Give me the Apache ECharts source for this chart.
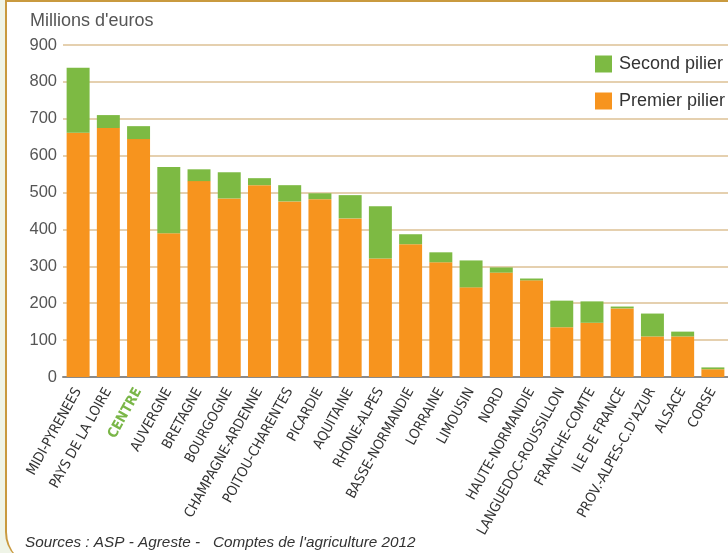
<!DOCTYPE html>
<html><head><meta charset="utf-8">
<script src="https://cdn.jsdelivr.net/npm/echarts@6/dist/echarts.min.js"></script>
<style>
html,body{margin:0;padding:0;width:728px;height:553px;overflow:hidden;background:#eff4e7;}
#frame{position:absolute;left:5px;top:0;width:740px;height:566px;background:#fff;border-top:2px solid #c99a3f;border-left:2px solid #c99a3f;border-bottom-left-radius:34px;box-sizing:border-box;}
#chart{position:absolute;left:0;top:0;width:728px;height:553px;}
</style></head>
<body><div id="frame"></div><div id="chart"></div>
<script>
const categories = ["MIDI-PYRENEES","PAYS DE LA LOIRE","CENTRE","AUVERGNE","BRETAGNE","BOURGOGNE","CHAMPAGNE-ARDENNE","POITOU-CHARENTES","PICARDIE","AQUITAINE","RHONE-ALPES","BASSE-NORMANDIE","LORRAINE","LIMOUSIN","NORD","HAUTE-NORMANDIE","LANGUEDOC-ROUSSILLON","FRANCHE-COMTE","ILE DE FRANCE","PROV.-ALPES-C.D'AZUR","ALSACE","CORSE"];
const premierPilier = [662,675,645,390,531,484,520,476,482,430,321,360,311,243,283,262,135,147,186,110,110,21];
const totalValues   = [838,710,680,569,563,555,539,520,498,493,463,387,338,316,297,267,207,205,191,172,123,26];
const secondPilier = totalValues.map((t,i)=>t-premierPilier[i]);
const yTicks = [0,100,200,300,400,500,600,700,800,900];
const highlight = "CENTRE";

const chart = echarts.init(document.getElementById('chart'), null, {renderer:'canvas'});
const font = "'DejaVu Sans Condensed','Liberation Sans Narrow','Liberation Sans',Arial,sans-serif";
const sans = "'Liberation Sans',Arial,sans-serif";
chart.setOption({
  animation:false,
  grid:{left:63,right:0,top:45,bottom:176},
  title:[
    {text:"Millions d'euros",left:25,top:7,textStyle:{fontFamily:sans,fontSize:18,fontWeight:'normal',color:'#555'}},
    {text:"Sources : ASP - Agreste -   Comptes de l'agriculture 2012",left:20,top:530,textStyle:{fontFamily:sans,fontSize:15.3,fontStyle:'italic',fontWeight:'normal',color:'#333'}}
  ],
  legend:{
    left:595,top:55,orient:'vertical',itemGap:19,itemWidth:17,itemHeight:17,padding:0,
    textStyle:{fontFamily:sans,fontSize:18,color:'#333',padding:[0,0,0,2]},
    data:[{name:'Second pilier',icon:'rect'},{name:'Premier pilier',icon:'rect'}]
  },
  xAxis:{
    type:'category',data:categories,
    axisLine:{lineStyle:{color:'#8a8a8a',width:2}},
    axisTick:{show:false},
    axisLabel:{interval:0,rotate:61,margin:12,fontFamily:font,fontSize:14,color:'#333',
      formatter:v=> v===highlight ? '{h|'+v+'}' : v,
      rich:{h:{color:'#7ab648',fontWeight:'bold',fontFamily:font,fontSize:14}}}
  },
  yAxis:{
    type:'value',min:0,max:900,interval:100,
    axisLine:{show:false},axisTick:{show:false},
    axisLabel:{fontFamily:sans,fontSize:16.5,color:'#555',margin:6,
      formatter:v=> yTicks.includes(v)?String(v):''},
    splitLine:{lineStyle:{color:'#dcc095',width:1.5}}
  },
  series:[
    {name:'Premier pilier',type:'bar',stack:'t',data:premierPilier,itemStyle:{color:'#f7941e'},barCategoryGap:'24%'},
    {name:'Second pilier',type:'bar',stack:'t',data:secondPilier,itemStyle:{color:'#7dba43'}}
  ]
});
</script></body></html>
